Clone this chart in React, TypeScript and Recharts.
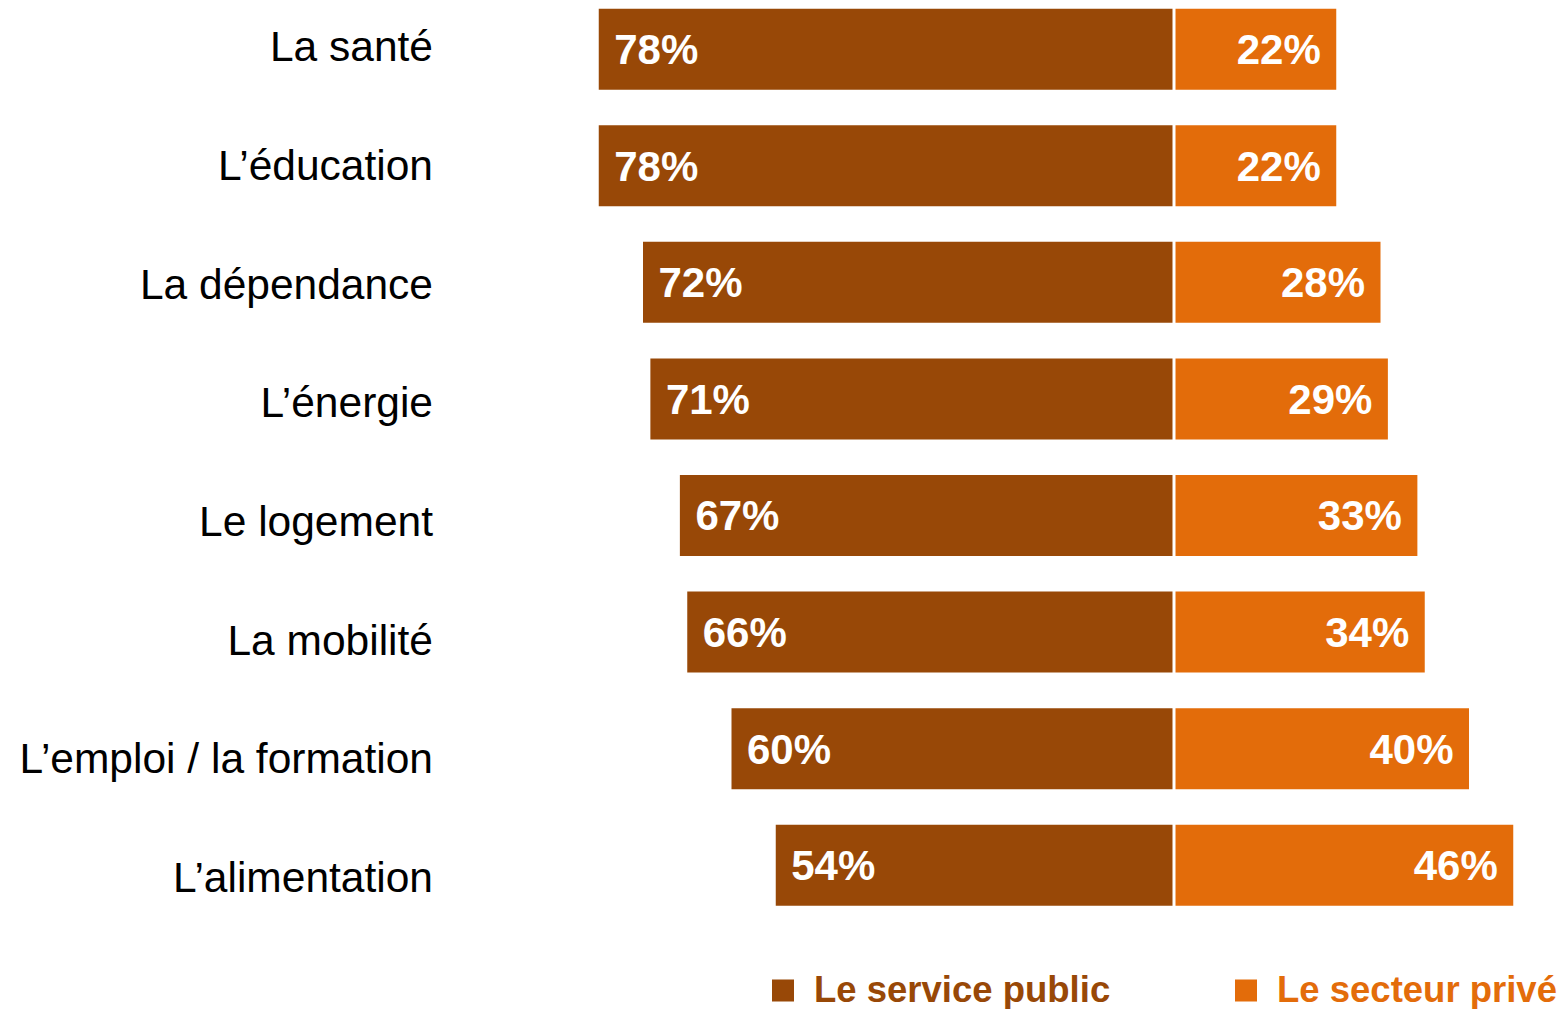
import React from 'react';
import { BarChart, Bar, XAxis, YAxis, LabelList, ReferenceLine, Legend } from 'recharts';

const categories = [
  'La santé',
  'L’éducation',
  'La dépendance',
  'L’énergie',
  'Le logement',
  'La mobilité',
  'L’emploi / la formation',
  'L’alimentation',
];
const publicValues = [78, 78, 72, 71, 67, 66, 60, 54];
const privateValues = [22, 22, 28, 29, 33, 34, 40, 46];
const seriesNames = ['Le service public', 'Le secteur privé'];

const BROWN = '#984807';
const ORANGE = '#E36C0A';
const FONT = "'Liberation Sans', Arial, sans-serif";

const data = categories.map((name, i) => ({
  name,
  pub: -publicValues[i],
  priv: privateValues[i],
}));

const pct = (v: any) => `${Math.abs(Number(v))}%`;

const LegendContent = () => (
  <svg width={1566} height={36} style={{ display: 'block', overflow: 'visible' }}>
    <rect x={772} y={7.5} width={22} height={22} fill={BROWN} />
    <text x={814} y={29.5} fill={BROWN} fontSize={36.5} fontWeight="bold" fontFamily={FONT}>
      {seriesNames[0]}
    </text>
    <rect x={1235} y={7.5} width={22} height={22} fill={ORANGE} />
    <text x={1277} y={29.5} fill={ORANGE} fontSize={36.5} fontWeight="bold" fontFamily={FONT}>
      {seriesNames[1]}
    </text>
  </svg>
);

export default function App() {
  return (
    <div
      style={{
        position: 'absolute',
        top: 0,
        left: 0,
        width: 1566,
        height: 1009,
        background: '#fff',
        fontFamily: FONT,
      }}
    >
      <BarChart
        width={1566}
        height={1009}
        data={data}
        layout="vertical"
        stackOffset="sign"
        margin={{ top: -13.03, right: 23.25, bottom: 72.67, left: 0 }}
      >
        <XAxis type="number" domain={[-80, 50]} hide />
        <YAxis
          type="category"
          dataKey="name"
          width={584}
          axisLine={false}
          tickLine={false}
          tickSize={0}
          tickMargin={151}
          interval={0}
          tick={{ fill: '#000', fontSize: 42.5, fontFamily: FONT }}
        />
        <YAxis
          yAxisId="bars"
          type="category"
          dataKey="name"
          hide
          padding={{ top: 3.74, bottom: 13.05 }}
        />
        <Bar dataKey="pub" yAxisId="bars" stackId="a" fill={BROWN} barSize={81} isAnimationActive={false}>
          <LabelList
            dataKey="pub"
            position="insideRight"
            offset={15.5}
            formatter={pct}
            fill="#fff"
            fontSize={42}
            fontWeight="bold"
          />
        </Bar>
        <Bar dataKey="priv" yAxisId="bars" stackId="a" fill={ORANGE} barSize={81} isAnimationActive={false}>
          <LabelList
            dataKey="priv"
            position="insideRight"
            offset={15.5}
            formatter={pct}
            fill="#fff"
            fontSize={42}
            fontWeight="bold"
          />
        </Bar>
        <ReferenceLine x={0} yAxisId="bars" stroke="#fff" strokeWidth={3} />
        <Legend
          layout="horizontal"
          verticalAlign="middle"
          align="center"
          wrapperStyle={{ top: 972, left: 0, width: 1566 }}
          content={() => <LegendContent />}
        />
      </BarChart>
    </div>
  );
}
